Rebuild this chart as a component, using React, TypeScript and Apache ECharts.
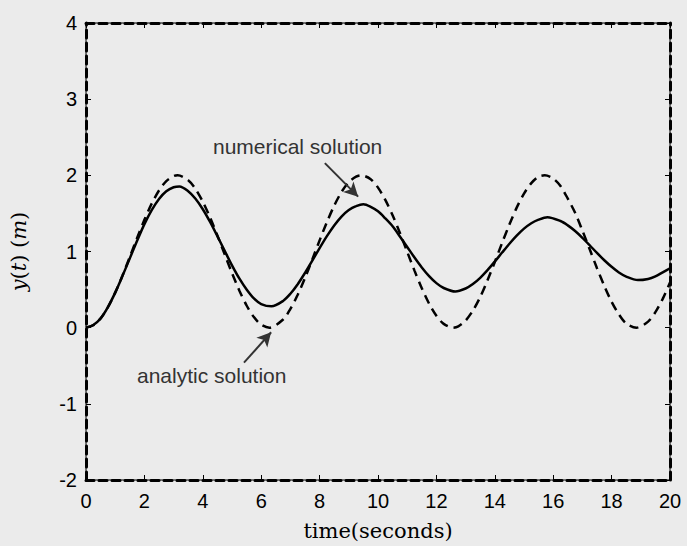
import React, { useEffect, useRef } from "react";
import * as echarts from "echarts";

const analyticTimes = [0, 0.25, 0.5, 0.75, 1, 1.25, 1.5, 1.75, 2, 2.25, 2.5, 2.75, 3, 3.14, 3.5, 3.75, 4, 4.25, 4.5, 4.75, 5, 5.25, 5.5, 5.75, 6, 6.28, 6.75, 7, 7.25, 7.5, 7.75, 8, 8.25, 8.5, 8.75, 9, 9.25, 9.42, 9.75, 10, 10.25, 10.5, 10.75, 11, 11.25, 11.5, 11.75, 12, 12.25, 12.57, 12.75, 13, 13.25, 13.5, 13.75, 14, 14.25, 14.5, 14.75, 15, 15.25, 15.5, 15.71, 16, 16.25, 16.5, 16.75, 17, 17.25, 17.5, 17.75, 18, 18.25, 18.5, 18.85, 19.25, 19.5, 19.75, 20];
const analyticValues = [0, 0.031, 0.122, 0.268, 0.46, 0.685, 0.929, 1.178, 1.416, 1.628, 1.801, 1.924, 1.99, 2.0, 1.936, 1.821, 1.654, 1.446, 1.211, 0.962, 0.716, 0.488, 0.291, 0.139, 0.04, 0.0, 0.107, 0.246, 0.431, 0.653, 0.896, 1.146, 1.386, 1.602, 1.781, 1.911, 1.983, 2.0, 1.949, 1.839, 1.677, 1.476, 1.244, 0.996, 0.749, 0.518, 0.315, 0.156, 0.05, 0.0, 0.017, 0.093, 0.225, 0.402, 0.622, 0.863, 1.113, 1.354, 1.576, 1.76, 1.897, 1.983, 2.0, 1.958, 1.86, 1.693, 1.508, 1.275, 1.029, 0.781, 0.549, 0.34, 0.175, 0.055, 0.0, 0.079, 0.204, 0.378, 0.592];
const numericalTimes = [0, 0.25, 0.5, 0.75, 1, 1.25, 1.5, 1.75, 2, 2.25, 2.5, 2.75, 3, 3.2, 3.5, 3.75, 4, 4.25, 4.5, 4.75, 5, 5.25, 5.5, 5.75, 6, 6.35, 6.75, 7, 7.25, 7.5, 7.75, 8, 8.25, 8.5, 8.75, 9, 9.25, 9.5, 9.75, 10, 10.25, 10.5, 10.75, 11, 11.25, 11.5, 11.75, 12, 12.25, 12.65, 13, 13.25, 13.5, 13.75, 14, 14.25, 14.5, 14.75, 15, 15.25, 15.5, 15.8, 16.25, 16.5, 16.75, 17, 17.25, 17.5, 17.75, 18, 18.25, 18.5, 18.9, 19.25, 19.5, 19.75, 20];
const numericalValues = [0, 0.035, 0.12, 0.27, 0.46, 0.68, 0.91, 1.14, 1.359, 1.543, 1.69, 1.791, 1.843, 1.855, 1.792, 1.693, 1.555, 1.388, 1.201, 1.008, 0.818, 0.646, 0.501, 0.384, 0.31, 0.28, 0.351, 0.445, 0.57, 0.719, 0.879, 1.044, 1.201, 1.342, 1.459, 1.545, 1.596, 1.62, 1.587, 1.528, 1.435, 1.331, 1.198, 1.06, 0.921, 0.791, 0.677, 0.585, 0.521, 0.475, 0.514, 0.572, 0.654, 0.755, 0.868, 0.986, 1.102, 1.208, 1.3, 1.371, 1.418, 1.45, 1.4, 1.343, 1.269, 1.18, 1.082, 0.981, 0.885, 0.799, 0.725, 0.671, 0.625, 0.64, 0.674, 0.727, 0.78];
const xTicks = [0, 2, 4, 6, 8, 10, 12, 14, 16, 18, 20];
const yTicks = [-2, -1, 0, 1, 2, 3, 4];

const numericalArrow = [[8.18, 2.16], [9.32, 1.72]];
const analyticArrow = [[5.41, -0.46], [6.34, -0.06]];

export default function App() {
  const ref = useRef<HTMLDivElement>(null);
  useEffect(() => {
    if (!ref.current) return;
    const chart = echarts.init(ref.current, null, { renderer: "svg" });
    const boxLine = { show: true, onZero: false, lineStyle: { color: "#000", width: 3, type: [8, 5] as any } };
    const tickCommon = { show: true, inside: true, length: 5, lineStyle: { color: "#000", width: 1 } };
    const labelFont = { color: "#000", fontFamily: "Liberation Sans, Arial, sans-serif", fontSize: 20 };
    chart.setOption({
      animation: false,
      backgroundColor: "#ebebeb",
      grid: { left: 86, right: 17, top: 23, bottom: 66, show: true, borderColor: "#000", borderWidth: 1, backgroundColor: "transparent" },
      xAxis: [
        {
          type: "value", min: xTicks[0], max: xTicks[xTicks.length - 1], interval: 2, position: "bottom",
          axisLine: boxLine, axisTick: tickCommon, splitLine: { show: false },
          axisLabel: { ...labelFont, margin: 11 },
          name: "time(seconds)", nameLocation: "middle", nameGap: 40,
          nameTextStyle: { color: "#000", fontFamily: "DejaVu Serif, serif", fontSize: 21 },
        },
        {
          type: "value", min: xTicks[0], max: xTicks[xTicks.length - 1], interval: 2, position: "top",
          axisLine: boxLine, axisTick: tickCommon, splitLine: { show: false }, axisLabel: { show: false },
        },
      ],
      yAxis: [
        {
          type: "value", min: yTicks[0], max: yTicks[yTicks.length - 1], interval: 1, position: "left",
          axisLine: boxLine, axisTick: tickCommon, splitLine: { show: false },
          axisLabel: { ...labelFont, margin: 9 },
          name: "{i|y}({i|t}) ({i|m})", nameLocation: "middle", nameGap: 57,
          nameTextStyle: {
            color: "#000", fontFamily: "DejaVu Serif, serif", fontSize: 21,
            rich: { i: { fontStyle: "italic", fontFamily: "DejaVu Serif, serif", fontSize: 21, color: "#000" } },
          },
        },
        {
          type: "value", min: yTicks[0], max: yTicks[yTicks.length - 1], interval: 1, position: "right",
          axisLine: boxLine, axisTick: tickCommon, splitLine: { show: false }, axisLabel: { show: false },
        },
      ],
      series: [
        {
          name: "analytic solution", type: "line", smooth: 0.3, showSymbol: false,
          data: analyticTimes.map((t, i) => [t, analyticValues[i]]),
          lineStyle: { color: "#000", width: 2.5, type: [9, 6] as any },
          z: 3,
          markLine: {
            silent: true, symbol: ["none", "arrow"], symbolSize: [11, 14],
            label: { show: false },
            lineStyle: { color: "#333", width: 2, type: "solid" },
            data: [[{ coord: analyticArrow[0] }, { coord: analyticArrow[1] }]],
          },
        },
        {
          name: "numerical solution", type: "line", smooth: 0.3, showSymbol: false,
          data: numericalTimes.map((t, i) => [t, numericalValues[i]]),
          lineStyle: { color: "#000", width: 2.5, type: "solid" },
          z: 4,
          markLine: {
            silent: true, symbol: ["none", "arrow"], symbolSize: [11, 14],
            label: { show: false },
            lineStyle: { color: "#333", width: 2, type: "solid" },
            data: [[{ coord: numericalArrow[0] }, { coord: numericalArrow[1] }]],
          },
        },
      ],
      graphic: [
        {
          type: "text", left: 213, top: 136,
          style: { text: "numerical solution", fill: "#333", fontFamily: "Liberation Sans, Arial, sans-serif", fontSize: 21 },
        },
        {
          type: "text", left: 137, top: 365,
          style: { text: "analytic solution", fill: "#333", fontFamily: "Liberation Sans, Arial, sans-serif", fontSize: 21 },
        },
      ],
    });
    return () => chart.dispose();
  }, []);
  return <div ref={ref} style={{ position: "absolute", left: 0, top: 0, width: 687, height: 546 }} />;
}
